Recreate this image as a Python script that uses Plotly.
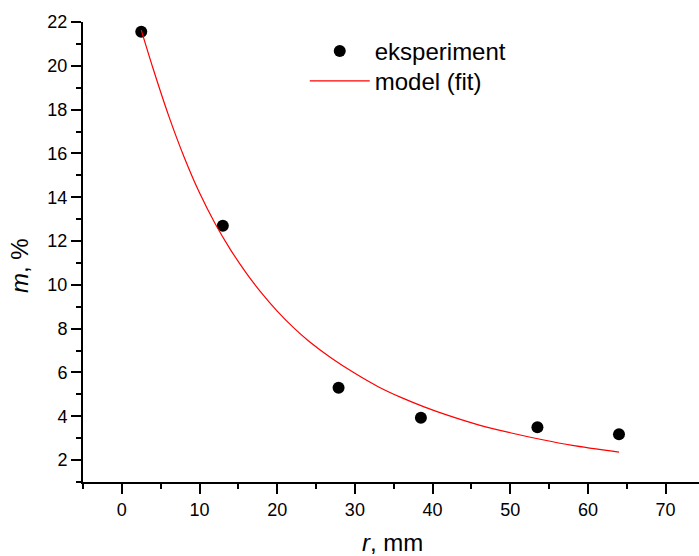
import plotly.graph_objects as go

# experimental points
exp_r = [2.5, 13.0, 27.9, 38.5, 53.5, 64.0]
exp_m = [21.55, 12.7, 5.3, 3.93, 3.5, 3.18]

# fitted model curve
fit_r = [2.5, 4, 6, 8, 10, 12, 14, 16, 18, 20, 22, 24, 27, 30, 33, 36, 39, 42, 46, 50, 54, 58, 64]
fit_m = [21.63, 19.9, 17.75, 15.85, 14.2, 12.8, 11.6, 10.55, 9.62, 8.8, 8.08, 7.45, 6.65,
         5.96, 5.35, 4.85, 4.42, 4.04, 3.6, 3.25, 2.94, 2.67, 2.36]

x_ticks = [0, 10, 20, 30, 40, 50, 60, 70]
y_ticks = [2, 4, 6, 8, 10, 12, 14, 16, 18, 20, 22]

FONT = "Liberation Sans, Arial, sans-serif"

fig = go.Figure()
fig.add_trace(go.Scatter(
    x=exp_r, y=exp_m, mode="markers", name="eksperiment", legend="legend",
    marker=dict(color="black", size=12, line=dict(width=0)),
))
fig.add_trace(go.Scatter(
    x=fit_r, y=fit_m, mode="lines", name="model (fit)", legend="legend2",
    line=dict(color="red", width=1.2, shape="spline", smoothing=0.8),
))

axis_common = dict(
    showgrid=False, zeroline=False, showline=True, linecolor="black", linewidth=2,
    ticks="outside", ticklen=10, tickwidth=2, tickcolor="black",
    tickfont=dict(family=FONT, size=18, color="black"),
    minor=dict(ticks="outside", ticklen=5, tickwidth=2, tickcolor="black", showgrid=False),
    automargin=False,
)

legend_common = dict(
    xanchor="left", yanchor="top",
    bgcolor="rgba(0,0,0,0)", font=dict(family=FONT, size=24, color="black"),
    itemwidth=60,
)

fig.update_layout(
    width=699, height=556,
    margin=dict(l=83, r=0, t=22, b=74, autoexpand=False),
    paper_bgcolor="white", plot_bgcolor="white",
    font=dict(family=FONT, size=18, color="black"),
    showlegend=True,
    legend=dict(x=0.36, y=0.985, **legend_common),
    legend2=dict(x=0.36, y=0.92, **legend_common),
    xaxis=dict(
        range=[-5, 74.3], tickmode="array", tickvals=x_ticks,
        minor_dtick=5, minor_tick0=-5,
        **axis_common,
    ),
    yaxis=dict(
        range=[1, 22], tickmode="array", tickvals=y_ticks,
        minor_dtick=1, minor_tick0=1,
        **axis_common,
    ),
    annotations=[
        dict(text="<i>r</i>, mm", xref="paper", yref="paper", x=0.503, y=-0.132,
             xanchor="center", yanchor="middle", showarrow=False,
             font=dict(family=FONT, size=24, color="black")),
        dict(text="<i>m</i>, %", xref="paper", yref="paper", x=-0.1039, y=0.4717,
             xanchor="center", yanchor="middle", showarrow=False, textangle=-90,
             font=dict(family=FONT, size=24, color="black")),
    ],
)

fig.write_html(
    "out.html",
    config={"displayModeBar": False},
    post_script="document.body.style.margin='0';document.body.style.overflow='hidden';",
)
